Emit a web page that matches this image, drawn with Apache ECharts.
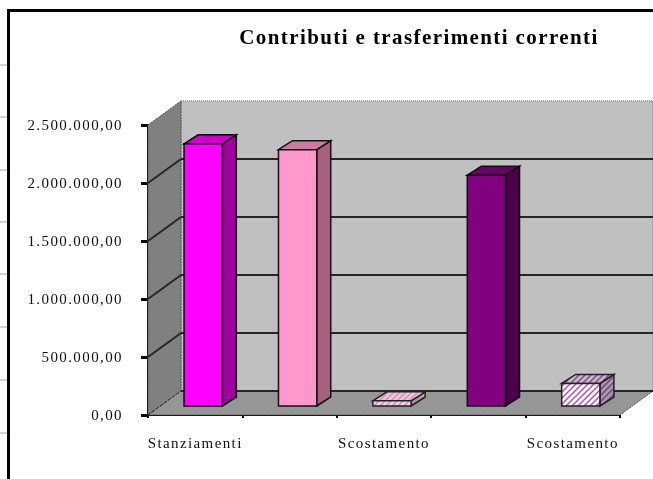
<!DOCTYPE html>
<html>
<head>
<meta charset="utf-8">
<style>
html,body{margin:0;padding:0;background:#fff}
#c{width:653px;height:479px;filter:blur(0.4px)}
#c text{letter-spacing:1.4px}
</style>
<script src="https://cdn.jsdelivr.net/npm/echarts@6/dist/echarts.min.js"></script>
</head>
<body>
<div id="c"></div>
<script>
const categories = ['Stanziamenti', '', 'Scostamento', '', 'Scostamento'];
const values = [2260000, 2210000, 45000, 1990000, 195000];
const yTicks = [0, 500000, 1000000, 1500000, 2000000, 2500000];
const titleText = 'Contributi e trasferimenti correnti';

const DX = 33, DY = -24;          // wall depth
const BDX = 8, BDY = -9;          // bar position inside the depth
const SDX = 14, SDY = -9;         // bar depth

function stripes(bg, fg) {
  const n = 6, c = document.createElement('canvas');
  c.width = n; c.height = n;
  const g = c.getContext('2d');
  g.fillStyle = bg; g.fillRect(0, 0, n, n);
  g.strokeStyle = fg; g.lineWidth = 1.5;
  g.beginPath();
  g.moveTo(-1, 1); g.lineTo(1, -1);
  g.moveTo(-1, n + 1); g.lineTo(n + 1, -1);
  g.moveTo(n - 1, n + 1); g.lineTo(n + 1, n - 1);
  g.stroke();
  return { image: c, repeat: 'repeat' };
}
const barStyles = [
  { front: '#FF00FF', side: '#A000A0', top: '#C800C8', line: '#000' },
  { front: '#FF99CC', side: '#A66080', top: '#CC7AA3', line: '#111' },
  { front: stripes('#E4E0E4', '#F080B8'), side: stripes('#B0A8B0', '#D070A0'), top: stripes('#D8D0D8', '#F080B8'), line: '#222' },
  { front: '#800080', side: '#4A004A', top: '#660066', line: '#111' },
  { front: stripes('#FFFFFF', '#B050C0'), side: stripes('#A898A8', '#704880'), top: stripes('#C8B8C8', '#804890'), line: '#222' }
];

function poly(points, fill, stroke, lw, dash) {
  return {
    type: 'polygon',
    shape: { points: points },
    style: { fill: fill, stroke: stroke || null, lineWidth: lw || 0, lineDash: dash || null }
  };
}

const chart = echarts.init(document.getElementById('c'), null, { renderer: 'svg', width: 653, height: 479 });

chart.setOption({
  animation: false,
  backgroundColor: '#fff',
  title: {
    text: titleText,
    left: 414, top: 21, textAlign: 'center',
    textStyle: { fontFamily: 'Liberation Serif', fontSize: 21, fontWeight: 'bold', color: '#000' }
  },
  grid: { left: 148, top: 125, width: 472, height: 290, containLabel: false },
  xAxis: {
    type: 'category',
    data: categories,
    boundaryGap: true,
    axisLine: { show: true, lineStyle: { color: '#000', width: 2, type: [2, 1] } },
    axisTick: { show: true, alignWithLabel: false, length: 3, lineStyle: { color: '#000', width: 2 } },
    axisLabel: { interval: 0, margin: 20, fontFamily: 'Liberation Serif', fontSize: 15, color: '#111' }
  },
  yAxis: {
    type: 'value',
    min: 0, max: 2500000, interval: 500000,
    splitLine: { show: false },
    axisLine: { show: true, lineStyle: { color: '#000', width: 2 } },
    axisTick: { show: true, length: 7, lineStyle: { color: '#000', width: 3 } },
    axisLabel: {
      margin: 25, fontFamily: 'Liberation Serif', fontSize: 15, color: '#111',
      formatter: v => v.toLocaleString('it-IT', { minimumFractionDigits: 2, maximumFractionDigits: 2, useGrouping: 'always' })
    }
  },
  series: [
    {
      type: 'custom', name: 'walls', silent: true, z: 1, clip: false,
      data: [[0]],
      renderItem(params, api) {
        const g = params.coordSys;
        const l = g.x, r = g.x + g.width, t = g.y, b = g.y + g.height;
        return {
          type: 'group',
          children: [
            poly([[l + DX, t + DY], [r + DX, t + DY], [r + DX, b + DY], [l + DX, b + DY]], '#C0C0C0', '#8a8a8a', 1.5, [1, 1]),
            poly([[l, t], [l + DX, t + DY], [l + DX, b + DY], [l, b]], '#808080', '#555', 1, [2, 1]),
            poly([[l, b], [l + DX, b + DY], [r + DX, b + DY], [r, b]], '#969696', '#555', 1, [2, 1])
          ]
        };
      }
    },
    {
      type: 'custom', name: 'gridlines', silent: true, z: 2, clip: false,
      data: yTicks.slice(0, -1).map(v => [0, v]),
      renderItem(params, api) {
        const g = params.coordSys;
        const v = api.value(1);
        const y = api.coord([0, v])[1];
        const ls = { stroke: '#262626', lineWidth: 2, fill: null };
        const slant = { stroke: '#262626', lineWidth: v === 0 ? 1 : 2, fill: null, lineDash: v === 0 ? [3, 2] : null };
        return {
          type: 'group',
          children: [
            { type: 'line', shape: { x1: g.x, y1: y, x2: g.x + DX, y2: y + DY }, style: slant },
            { type: 'line', shape: { x1: g.x + DX, y1: y + DY, x2: g.x + g.width + DX, y2: y + DY }, style: ls }
          ]
        };
      }
    },
    {
      type: 'custom', name: 'bars', silent: true, z: 3, clip: false,
      data: values.map((v, i) => [i, v]),
      renderItem(params, api) {
        const i = api.value(0);
        const top = api.coord([i, api.value(1)]);
        const base = api.coord([i, 0]);
        const w = api.size([1, 0])[0] * 0.405;
        const x0 = top[0] + BDX - w / 2, x1 = x0 + w;
        const y0 = top[1] + BDY, yb = base[1] + BDY;
        const s = barStyles[i];
        return {
          type: 'group',
          children: [
            poly([[x1, yb], [x1 + SDX, yb + SDY], [x1 + SDX, y0 + SDY], [x1, y0]], s.side, s.line, 1.5),
            poly([[x0, y0], [x0 + SDX, y0 + SDY], [x1 + SDX, y0 + SDY], [x1, y0]], s.top, s.line, 1.5),
            poly([[x0, y0], [x1, y0], [x1, yb], [x0, yb]], s.front, s.line, 1.5)
          ]
        };
      }
    }
  ],
  graphic: {
    elements: [
      { type: 'polyline', z: 0, shape: { points: [[8.5, 479], [8.5, 10.5], [653, 10.5]] }, style: { stroke: '#000', lineWidth: 3, fill: null } }
    ].concat([65, 117, 170, 222, 274, 327, 380, 433].map(y => ({
      type: 'line', z: 0, shape: { x1: 0, y1: y, x2: 7, y2: y }, style: { stroke: '#CDD4EA', lineWidth: 2 }
    })))
  }
});
</script>
</body>
</html>
